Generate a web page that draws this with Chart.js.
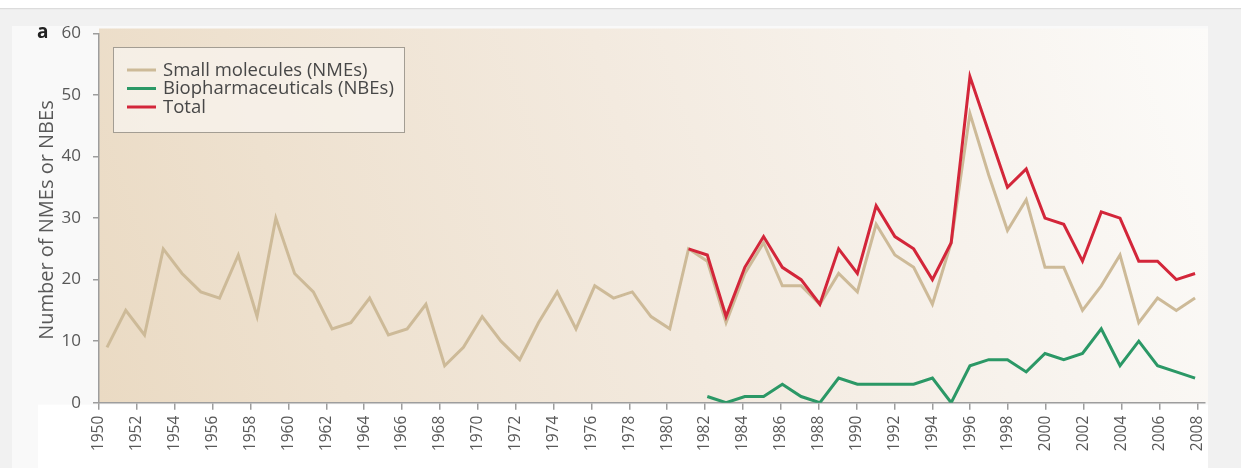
<!DOCTYPE html>
<html>
<head>
<meta charset="utf-8">
<script src="https://cdn.jsdelivr.net/npm/chart.js@4.4.1/dist/chart.umd.min.js"></script>
<style>
  html, body { margin: 0; padding: 0; background: #ffffff; }
  #wrap { width: 1241px; height: 468px; position: relative; }
  canvas { display: block; }
</style>
</head>
<body>
<div id="wrap"><canvas id="chart" width="1241" height="468"></canvas></div>
<script>
// Approval years
const years = [
  1950, 1951, 1952, 1953, 1954, 1955, 1956, 1957, 1958, 1959,
  1960, 1961, 1962, 1963, 1964, 1965, 1966, 1967, 1968, 1969,
  1970, 1971, 1972, 1973, 1974, 1975, 1976, 1977, 1978, 1979,
  1980, 1981, 1982, 1983, 1984, 1985, 1986, 1987, 1988, 1989,
  1990, 1991, 1992, 1993, 1994, 1995, 1996, 1997, 1998, 1999,
  2000, 2001, 2002, 2003, 2004, 2005, 2006, 2007, 2008
];

// New molecular entities (small molecules), 1950-2008
const smallMolecules = [
  9, 15, 11, 25, 21, 18, 17, 24, 14, 30,
  21, 18, 12, 13, 17, 11, 12, 16, 6, 9,
  14, 10, 7, 13, 18, 12, 19, 17, 18, 14,
  12, 25, 23, 13, 21, 26, 19, 19, 16, 21,
  18, 29, 24, 22, 16, 26, 47, 37, 28, 33,
  22, 22, 15, 19, 24, 13, 17, 15, 17
];

// New biological entities, 1982-2008
const biologicsStart = 1982;
const biopharmaceuticals = [
  1, 0, 1, 1, 3, 1, 0, 4,
  3, 3, 3, 3, 4, 0, 6, 7, 7, 5,
  8, 7, 8, 12, 6, 10, 6, 5, 4
];

// Total approvals, 1981-2008
const totalStart = 1981;
const totals = [
  25, 24, 14, 22, 27, 22, 20, 16, 25,
  21, 32, 27, 25, 20, 26, 53, 44, 35, 38,
  30, 29, 23, 31, 30, 23, 23, 20, 21
];

// Axis tick labels
const xTickYears = [
  1950, 1952, 1954, 1956, 1958, 1960, 1962, 1964, 1966, 1968,
  1970, 1972, 1974, 1976, 1978, 1980, 1982, 1984, 1986, 1988,
  1990, 1992, 1994, 1996, 1998, 2000, 2002, 2004, 2006, 2008
];
const yTicks = [0, 10, 20, 30, 40, 50, 60];

const seriesLabels = ['Small molecules (NMEs)', 'Biopharmaceuticals (NBEs)', 'Total'];
const seriesColors = ['#cdba98', '#2b9866', '#d3263a'];

function toPoints(startYear, values) {
  const offset = years.indexOf(startYear);
  return values.map((v, i) => ({ x: years[offset + i], y: v }));
}

const FONT = '"Open Sans", "DejaVu Sans", sans-serif';
const AXIS_COLOR = '#9d9d9d';
const TEXT_COLOR = '#585858';

// Page frame, panel and the shaded plot background
const backdrop = {
  id: 'backdrop',
  beforeDraw(chart) {
    const ctx = chart.ctx;
    const W = chart.width, H = chart.height;
    const a = chart.chartArea;
    ctx.save();
    ctx.fillStyle = '#ffffff';
    ctx.fillRect(0, 0, W, H);
    ctx.fillStyle = '#f1f1f1';
    ctx.fillRect(0, 9, W, H - 9);
    ctx.fillStyle = '#dcdcdc';
    ctx.fillRect(0, 8, W, 1.2);
    ctx.fillStyle = '#f9f9f9';
    ctx.fillRect(12, 26, a.right + 3 - 12, H - 26);
    ctx.fillStyle = '#ffffff';
    ctx.fillRect(38, a.bottom + 2, a.right + 3 - 38, H - a.bottom - 2);

    const x0 = a.left, y0 = a.bottom, x1 = a.right + 3, y1 = a.top - 5;
    const g = ctx.createLinearGradient(x0, y0, x1, y1);
    g.addColorStop(0, '#eadac3');
    g.addColorStop(0.2, '#eee1cf');
    g.addColorStop(0.5, '#f3eadf');
    g.addColorStop(0.8, '#f8f4ef');
    g.addColorStop(1, '#fcfbf9');
    ctx.fillStyle = g;
    ctx.fillRect(x0, y1, x1 - x0, y0 - y1);
    ctx.restore();
  }
};

// Panel letter, axis title and boxed legend
const annotations = {
  id: 'annotations',
  afterDraw(chart) {
    const ctx = chart.ctx;
    const a = chart.chartArea;
    ctx.save();
    ctx.fillStyle = '#222222';
    ctx.font = 'bold 19px ' + FONT;
    ctx.textAlign = 'left';
    ctx.textBaseline = 'alphabetic';
    ctx.fillText('a', 37, 38);

    ctx.translate(47, (a.top + a.bottom) / 2 + 2);
    ctx.rotate(-Math.PI / 2);
    ctx.fillStyle = TEXT_COLOR;
    ctx.font = '20px ' + FONT;
    ctx.textAlign = 'center';
    ctx.textBaseline = 'middle';
    ctx.fillText('Number of NMEs or NBEs', 0, 0);
    ctx.restore();

    ctx.save();
    const bx = 113.5, by = 47.5, bw = 291, bh = 85;
    ctx.fillStyle = 'rgba(248, 243, 236, 0.8)';
    ctx.fillRect(bx, by, bw, bh);
    ctx.strokeStyle = '#a39d93';
    ctx.lineWidth = 1;
    ctx.strokeRect(bx, by, bw, bh);
    ctx.font = '18.5px ' + FONT;
    ctx.textAlign = 'left';
    ctx.textBaseline = 'middle';
    chart.data.datasets.forEach((ds, i) => {
      const y = 70 + i * 18.5;
      ctx.strokeStyle = ds.borderColor;
      ctx.lineWidth = 3;
      ctx.beginPath();
      ctx.moveTo(127, y);
      ctx.lineTo(156, y);
      ctx.stroke();
      ctx.fillStyle = '#474747';
      ctx.fillText(ds.label, 163, y + 0.5);
    });
    ctx.restore();
  }
};

const lineStyle = { borderWidth: 3, pointRadius: 0, tension: 0, fill: false, borderJoinStyle: 'miter' };

new Chart(document.getElementById('chart'), {
  type: 'line',
  data: {
    datasets: [
      Object.assign({ label: seriesLabels[0], data: toPoints(years[0], smallMolecules), borderColor: seriesColors[0], order: 1, xAxisID: 'xd', yAxisID: 'y' }, lineStyle),
      Object.assign({ label: seriesLabels[1], data: toPoints(biologicsStart, biopharmaceuticals), borderColor: seriesColors[1], order: 2, xAxisID: 'xd', yAxisID: 'y' }, lineStyle),
      Object.assign({ label: seriesLabels[2], data: toPoints(totalStart, totals), borderColor: seriesColors[2], order: 0, xAxisID: 'xd', yAxisID: 'y' }, lineStyle)
    ]
  },
  options: {
    responsive: false,
    animation: false,
    devicePixelRatio: 1,
    layout: { padding: { left: 0, top: 33.5, right: 36, bottom: 0 } },
    plugins: { legend: { display: false }, tooltip: { enabled: false } },
    scales: {
      x: {
        type: 'linear',
        position: 'bottom',
        min: 1950,
        max: 2008.4,
        afterBuildTicks(scale) { scale.ticks = xTickYears.map(v => ({ value: v })); },
        afterFit(scale) { scale.height = 468 - 402.7; },
        ticks: {
          autoSkip: false, minRotation: 90, maxRotation: 90, padding: 6,
          color: TEXT_COLOR, font: { family: FONT, size: 15.5 },
          callback: v => String(v)
        },
        grid: { display: true, drawOnChartArea: false, drawTicks: true, tickLength: 7, color: AXIS_COLOR, lineWidth: 1.5 },
        border: { display: true, color: AXIS_COLOR, width: 1.5 }
      },
      xd: {
        type: 'linear',
        display: false,
        min: 1949.574,
        max: 2008.53
      },
      y: {
        type: 'linear',
        position: 'left',
        min: 0,
        max: 60,
        afterBuildTicks(scale) { scale.ticks = yTicks.map(v => ({ value: v })); },
        afterFit(scale) { scale.width = 99; },
        ticks: { padding: 12, color: TEXT_COLOR, font: { family: FONT, size: 17 } },
        grid: { display: true, drawOnChartArea: false, drawTicks: true, tickLength: 6, color: AXIS_COLOR, lineWidth: 1.5 },
        border: { display: true, color: AXIS_COLOR, width: 1.5 }
      }
    }
  },
  plugins: [backdrop, annotations]
});
</script>
</body>
</html>
